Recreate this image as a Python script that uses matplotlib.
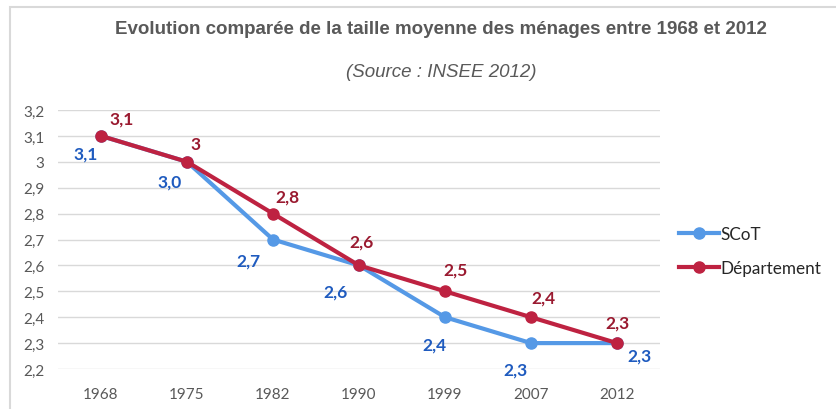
import matplotlib.pyplot as plt
from matplotlib.patches import Rectangle

years = ["1968", "1975", "1982", "1990", "1999", "2007", "2012"]
scot = [3.1, 3.0, 2.7, 2.6, 2.4, 2.3, 2.3]
dept = [3.1, 3.0, 2.8, 2.6, 2.5, 2.4, 2.3]
scot_labels = ["3,1", "3,0", "2,7", "2,6", "2,4", "2,3", "2,3"]
dept_labels = ["3,1", "3", "2,8", "2,6", "2,5", "2,4", "2,3"]
yticks = [2.2, 2.3, 2.4, 2.5, 2.6, 2.7, 2.8, 2.9, 3.0, 3.1, 3.2]

# label offsets in pixels (dx, dy)
scot_off = [(-15, -18), (-17, -20), (-25, -21), (-23, -26), (-11, -27), (-16, -26), (22, -12)]
dept_off = [(21, 17), (9, 18), (14, 17), (3, 24), (10, 22), (12, 20), (0, 21)]

blue = "#5599E6"
red = "#BE2241"
blue_txt = "#1F5BBF"
red_txt = "#9A1A30"
grey = "#595959"


def main():
    fig = plt.figure(figsize=(8.36, 4.10), dpi=100)
    fig.patches.append(Rectangle((10 / 836, -0.1), 1.1, 1 - 8 / 410 + 0.1,
                                 transform=fig.transFigure, fill=False,
                                 edgecolor="#D9D9D9", linewidth=1.5))
    ax = fig.add_axes([58 / 836, 1 - 370 / 410, (660 - 58) / 836, (370 - 111) / 410])

    x = list(range(len(years)))
    ax.plot(x, scot, "-o", color=blue, lw=3, ms=8, label="SCoT", zorder=3)
    ax.plot(x, dept, "-o", color=red, lw=3, ms=8, label="Département", zorder=4)

    for i in x:
        ax.annotate(scot_labels[i], (i, scot[i]), xytext=(scot_off[i][0] * 0.72, scot_off[i][1] * 0.72),
                    textcoords="offset points", ha="center", va="center",
                    color=blue_txt, fontsize=12.5, fontweight="bold", family="Lato")
        ax.annotate(dept_labels[i], (i, dept[i]), xytext=(dept_off[i][0] * 0.72, dept_off[i][1] * 0.72),
                    textcoords="offset points", ha="center", va="center",
                    color=red_txt, fontsize=12.5, fontweight="bold", family="Lato")

    ax.set_xlim(-0.5, len(years) - 0.5)
    ax.set_ylim(2.2, 3.2)
    ax.set_xticks(x)
    ax.set_xticklabels(years)
    ax.set_yticks(yticks)
    ax.set_yticklabels([("%g" % v).replace(".", ",") for v in yticks])
    for lab in ax.get_xticklabels() + ax.get_yticklabels():
        lab.set_family("Lato")
        lab.set_fontsize(11)
        lab.set_color(grey)
    ax.tick_params(length=0)
    ax.tick_params(axis="x", pad=13)
    ax.tick_params(axis="y", pad=10)
    ax.grid(axis="y", color="#D9D9D9", lw=1)
    ax.set_axisbelow(True)
    for s in ax.spines.values():
        s.set_visible(False)

    fig.text(441 / 836, 1 - 30 / 410, "Evolution comparée de la taille moyenne des ménages entre 1968 et 2012",
             ha="center", va="center", fontsize=13.5, fontweight="bold", color=grey, family="Liberation Sans")
    fig.text(441 / 836, 1 - 73 / 410, "(Source : INSEE 2012)",
             ha="center", va="center", fontsize=13.5, style="italic", color=grey, family="Liberation Sans")

    leg = fig.legend(loc="upper left", bbox_to_anchor=(664 / 836, 1 - 212 / 410), frameon=False,
                     prop={"family": "Lato", "size": 12.3}, handlelength=2.3, handletextpad=0.1,
                     labelspacing=1.05)
    for t in leg.get_texts():
        t.set_color("#262626")

    plt.savefig("out.png", dpi=100)
    plt.close(fig)


if __name__ == "__main__":
    main()
